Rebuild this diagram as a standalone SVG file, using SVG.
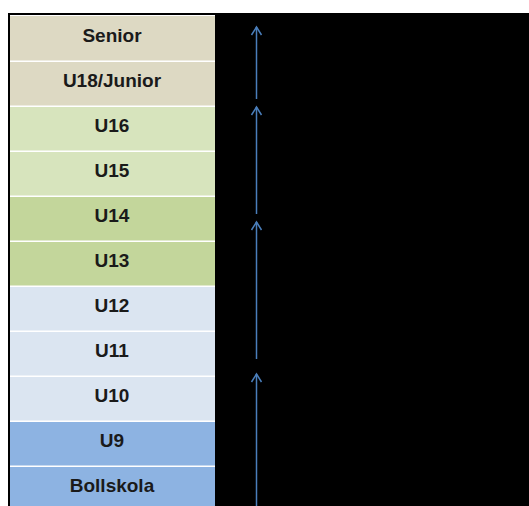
<svg xmlns="http://www.w3.org/2000/svg" width="529" height="506" viewBox="0 0 529 506">
<defs>
<style>
.t{font-family:"Liberation Sans",Arial,sans-serif;font-weight:bold;font-size:19px;fill:#1a1a1a;text-anchor:middle}
.a{stroke:#4A7EBB;stroke-width:1.5;fill:none}
.s{fill:#DDD9C3}.g1{fill:#D7E4BD}.g2{fill:#C3D69B}.b1{fill:#DBE5F1}.b2{fill:#8DB3E2}
</style>
<marker id="ah" markerWidth="14" markerHeight="14" refX="11" refY="6" orient="auto" markerUnits="userSpaceOnUse" viewBox="0 0 14 12">
<path d="M3,1 L11,6 L3,11" class="a"/>
</marker>
</defs>
<rect x="0" y="0" width="529" height="506" fill="#fff"/>
<rect x="8" y="13" width="521" height="493" fill="#000"/>
<rect x="10" y="15" width="205" height="491" fill="#fff"/>
<g id="senior"><rect class="s" x="10" y="16" width="205" height="44.5"/><text class="t" x="112" y="42">Senior</text></g>
<g id="u18"><rect class="s" x="10" y="62" width="205" height="43.5"/><text class="t" x="112" y="87">U18/Junior</text></g>
<g id="u16"><rect class="g1" x="10" y="107" width="205" height="43.5"/><text class="t" x="112" y="132">U16</text></g>
<g id="u15"><rect class="g1" x="10" y="152" width="205" height="43.5"/><text class="t" x="112" y="177">U15</text></g>
<g id="u14"><rect class="g2" x="10" y="197" width="205" height="43.5"/><text class="t" x="112" y="222">U14</text></g>
<g id="u13"><rect class="g2" x="10" y="242" width="205" height="43.5"/><text class="t" x="112" y="267">U13</text></g>
<g id="u12"><rect class="b1" x="10" y="287" width="205" height="43.5"/><text class="t" x="112" y="312">U12</text></g>
<g id="u11"><rect class="b1" x="10" y="332" width="205" height="43.5"/><text class="t" x="112" y="357">U11</text></g>
<g id="u10"><rect class="b1" x="10" y="377" width="205" height="43.5"/><text class="t" x="112" y="402">U10</text></g>
<g id="u9"><rect class="b2" x="10" y="422" width="205" height="43.5"/><text class="t" x="112" y="447">U9</text></g>
<g id="bollskola"><rect class="b2" x="10" y="467" width="205" height="43.5"/><text class="t" x="112" y="492">Bollskola</text></g>
<g id="connectors">
<line class="a" x1="256.5" y1="99" x2="256.5" y2="27" marker-end="url(#ah)"/>
<line class="a" x1="256.5" y1="214" x2="256.5" y2="107" marker-end="url(#ah)"/>
<line class="a" x1="256.5" y1="359" x2="256.5" y2="222" marker-end="url(#ah)"/>
<line class="a" x1="256.5" y1="506" x2="256.5" y2="374" marker-end="url(#ah)"/>
</g>
</svg>
